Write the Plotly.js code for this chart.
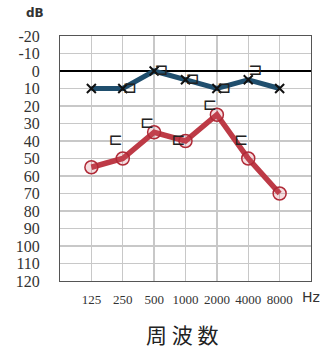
<!DOCTYPE html>
<html>
<head>
<meta charset="utf-8">
<script src="https://cdn.plot.ly/plotly-3.0.1.min.js"></script>
<style>html,body{margin:0;padding:0;background:#fff;}</style>
</head>
<body>
<div id="chart" style="width:330px;height:351px;"></div>
<script>
var freqs = ['125', '250', '500', '1000', '2000', '4000', '8000'];
var leftAir = [10, 10, 0, 5, 10, 5, 10];        // blue line, x markers
var rightAir = [55, 50, 35, 40, 25, 50, 70];    // red line, o markers
var rightBone = [null, 40, 30, 40, 20, 40, null]; // "[" brackets
var leftBone = [null, 10, 0, 5, 10, 0, null];     // "]" brackets
var yTicks = [-20, -10, 0, 10, 20, 30, 40, 50, 60, 70, 80, 90, 100, 110, 120];

var pos = freqs.map(function (f, i) { return i + 1; });
var yTickText = yTicks.map(function (v) { return String(v); });
var serif = 'Liberation Serif, Times New Roman, DejaVu Serif, serif';

var traces = [
  {
    x: pos, y: leftAir, mode: 'lines+markers', type: 'scatter',
    line: {color: '#1f4e6d', width: 5},
    marker: {symbol: 'x-thin-open', size: 9, color: '#111', line: {color: '#111', width: 2}},
    hoverinfo: 'skip'
  },
  {
    x: pos, y: rightAir, mode: 'lines+markers', type: 'scatter',
    line: {color: '#bd3a46', width: 5.5},
    marker: {symbol: 'circle', size: 13, color: 'rgba(210,90,100,0.2)', line: {color: '#b02a37', width: 1.5}},
    hoverinfo: 'skip'
  },
  {
    x: pos, y: rightBone, mode: 'text', type: 'scatter',
    text: rightBone.map(function (v) { return v === null ? '' : '\u228F'; }),
    textposition: 'middle left',
    textfont: {family: 'DejaVu Sans', size: 17, color: '#222'},
    hoverinfo: 'skip'
  },
  {
    x: pos, y: leftBone, mode: 'text', type: 'scatter',
    text: leftBone.map(function (v) { return v === null ? '' : '\u2290'; }),
    textposition: 'middle right',
    textfont: {family: 'DejaVu Sans', size: 17, color: '#222'},
    hoverinfo: 'skip'
  }
];

var layout = {
  width: 330, height: 351,
  margin: {l: 60, r: 19, t: 36, b: 70},
  paper_bgcolor: '#fff', plot_bgcolor: '#fff',
  showlegend: false,
  xaxis: {
    range: [0, 8], tickvals: pos, ticktext: freqs,
    showgrid: true, gridcolor: '#c8c8c8', gridwidth: 1.3,
    showline: true, mirror: true, linecolor: '#555', linewidth: 1,
    zeroline: false, ticks: '', ticklabelstandoff: 6,
    tickfont: {family: serif, size: 13, color: '#333'},
    fixedrange: true
  },
  yaxis: {
    range: [120, -20], tickvals: yTicks, ticktext: yTickText,
    showgrid: true, gridcolor: '#c8c8c8', gridwidth: 1.3,
    showline: true, mirror: true, linecolor: '#555', linewidth: 1,
    zeroline: true, zerolinecolor: '#000', zerolinewidth: 2,
    ticks: '', ticklabelstandoff: 16,
    tickfont: {family: serif, size: 16, color: '#333'},
    fixedrange: true
  },
  annotations: [
    {text: 'dB', xref: 'paper', yref: 'paper', x: -0.1, y: 1.0, yshift: 23, showarrow: false,
     font: {family: 'DejaVu Sans', size: 12, color: '#333', weight: 'bold'}, xanchor: 'center', yanchor: 'middle'},
    {text: 'Hz', xref: 'x', yref: 'paper', x: 8, y: 0, yshift: -16, showarrow: false,
     font: {family: 'DejaVu Sans', size: 14, color: '#333'}, xanchor: 'center', yanchor: 'middle'},
    {text: '周 波 数', xref: 'paper', yref: 'paper', x: 0.485, y: 0, yshift: -53, showarrow: false,
     font: {family: 'Noto Sans CJK JP', size: 21, color: '#222'}, xanchor: 'center', yanchor: 'middle'}
  ]
};

Plotly.newPlot('chart', traces, layout, {displayModeBar: false, staticPlot: true});
</script>
</body>
</html>
